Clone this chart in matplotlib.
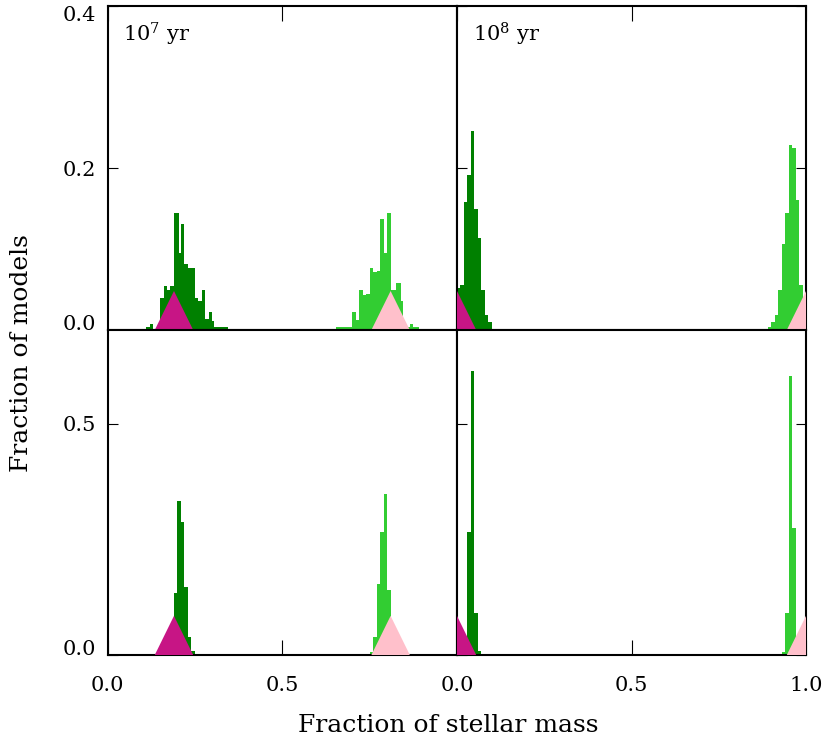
import numpy as np
import matplotlib
matplotlib.use('Agg')
import matplotlib.pyplot as plt

# ==========================================
# DATA
# ==========================================
# 10^7 yr, first fit: fine binning (0.005)
tl_dark_start, tl_dark_width = 0.110, 0.005
tl_dark = [0.004, 0.004, 0.008, 0.008, 0.0, 0.0, 0.004, 0.008,
           0.040, 0.040, 0.054, 0.054, 0.049, 0.049, 0.054, 0.054,
           0.145, 0.145, 0.145, 0.095, 0.131, 0.131, 0.081, 0.081,
           0.077, 0.077, 0.077, 0.077, 0.040, 0.040, 0.036, 0.036,
           0.049, 0.049, 0.014, 0.014, 0.022, 0.022, 0.011,
           0.004, 0.004, 0.004, 0.004, 0.004, 0.004, 0.004, 0.004]

tl_light_start, tl_light_width = 0.655, 0.005
tl_light = [0.004, 0.004, 0.004, 0.004, 0.004, 0.004, 0.004, 0.004, 0.004,
            0.022, 0.022, 0.012, 0.012, 0.049, 0.049, 0.043, 0.043,
            0.045, 0.045, 0.077, 0.077, 0.071, 0.071, 0.073, 0.073,
            0.137, 0.137, 0.095, 0.095, 0.145, 0.145,
            0.049, 0.049, 0.049, 0.058, 0.058, 0.058, 0.036,
            0.012, 0.008, 0.004, 0.004, 0.008, 0.008, 0.004, 0.004, 0.004]

# 10^8 yr, first fit (0.01 bins)
tr_dark_start, tr_dark_width = 0.0, 0.01
tr_dark = [0.052, 0.056, 0.158, 0.191, 0.246, 0.150, 0.113, 0.050, 0.0185, 0.0095]
tr_light_start, tr_light_width = 0.89, 0.01
tr_light = [0.004, 0.0099, 0.019, 0.050, 0.106, 0.145, 0.228, 0.225, 0.160, 0.056, 0.040]

# 10^7 yr, second fit
bl_dark_start, bl_dark_width = 0.17, 0.01
bl_dark = [0.010, 0.030, 0.135, 0.333, 0.287, 0.148, 0.040, 0.0087]
bl_light_start, bl_light_width = 0.75, 0.01
bl_light = [0.0072, 0.040, 0.153, 0.267, 0.348, 0.140, 0.050, 0.010]

# 10^8 yr, second fit
br_dark_start, br_dark_width = 0.02, 0.01
br_dark = [0.010, 0.267, 0.614, 0.090, 0.0087]
br_light_start, br_light_width = 0.93, 0.01
br_light = [0.0072, 0.090, 0.604, 0.274, 0.020]

# true input fractions (triangles)
true_old = [0.19, 0.0]     # per age column
true_young = [0.81, 1.0]
ages = [r'10$^7$ yr', r'10$^8$ yr']

top_ylim = 0.4
bot_ylim = 0.703

dark_col = '#008000'
light_col = '#32cd32'
mag_col = '#c71585'
pink_col = '#ffc0cb'

plt.rcParams['font.family'] = 'DejaVu Serif'
plt.rcParams['mathtext.fontset'] = 'dejavuserif'
plt.rcParams['font.size'] = 15

W, H = 831, 746
fig = plt.figure(figsize=(W / 100, H / 100), dpi=100)

x0, xm, x1 = 107.6 / W, 457 / W, 806 / W
y_top, y_mid, y_bot = 1 - 6 / H, 1 - 330 / H, 1 - 655 / H

axes = [[fig.add_axes([x0, y_mid, xm - x0, y_top - y_mid]),
         fig.add_axes([xm, y_mid, x1 - xm, y_top - y_mid])],
        [fig.add_axes([x0, y_bot, xm - x0, y_mid - y_bot]),
         fig.add_axes([xm, y_bot, x1 - xm, y_mid - y_bot])]]

hists = [[(tl_dark_start, tl_dark_width, tl_dark, tl_light_start, tl_light_width, tl_light),
          (tr_dark_start, tr_dark_width, tr_dark, tr_light_start, tr_light_width, tr_light)],
         [(bl_dark_start, bl_dark_width, bl_dark, bl_light_start, bl_light_width, bl_light),
          (br_dark_start, br_dark_width, br_dark, br_light_start, br_light_width, br_light)]]

tri_px = 39.0  # triangle height in pixels

for row in range(2):
    for col in range(2):
        ax = axes[row][col]
        ds, dw, dv, ls, lw, lv = hists[row][col]
        ax.stairs(dv, ds + dw * np.arange(len(dv) + 1), fill=True, color=dark_col, lw=0)
        ax.stairs(lv, ls + lw * np.arange(len(lv) + 1), fill=True, color=light_col, lw=0)

        ymax = top_ylim if row == 0 else bot_ylim
        h = ymax * tri_px / 324.0
        hw = 0.055
        for xc, c in [(true_old[col], mag_col), (true_young[col], pink_col)]:
            ax.fill([xc - hw, xc, xc + hw], [0, h, 0], color=c, lw=0, zorder=3)

        ax.set_xlim(0, 1)
        ax.set_ylim(0, ymax)
        ax.set_xticks([0, 0.5, 1.0])
        if row == 0:
            ax.set_yticks([0, 0.2, 0.4])
            ax.tick_params(axis='x', which='both', direction='in', top=True, bottom=False,
                           labelbottom=False, length=11)
            ax.text(0.045, 0.955, ages[col], transform=ax.transAxes, ha='left', va='top')
        else:
            ax.set_yticks([0, 0.5])
            ax.tick_params(axis='x', which='both', direction='in', top=False, bottom=True,
                           length=11, pad=15)
            if col == 0:
                ax.set_xticklabels(['0.0', '0.5', ''])
            else:
                ax.set_xticklabels(['0.0', '0.5', '1.0'])
        ax.tick_params(axis='y', direction='in', length=7, pad=8,
                       left=True, right=(col == 1), labelleft=(col == 0))
        if col == 0:
            ax.yaxis.set_major_formatter(matplotlib.ticker.FormatStrFormatter('%.1f'))
            ticks = ax.yaxis.get_major_ticks()
            ticks[0].label1.set_verticalalignment('baseline')
            if row == 0:
                ticks[-1].label1.set_verticalalignment('top')
        for s in ax.spines.values():
            s.set_linewidth(1.5)

fig.text((x0 + x1) / 2 - 9 / W, 1 - 726 / H, 'Fraction of stellar mass',
         ha='center', va='center', fontsize=18)
fig.text(22 / W, 1 - 353 / H, 'Fraction of models', rotation=90,
         ha='center', va='center', fontsize=18)

fig.savefig('out.png', dpi=100)
